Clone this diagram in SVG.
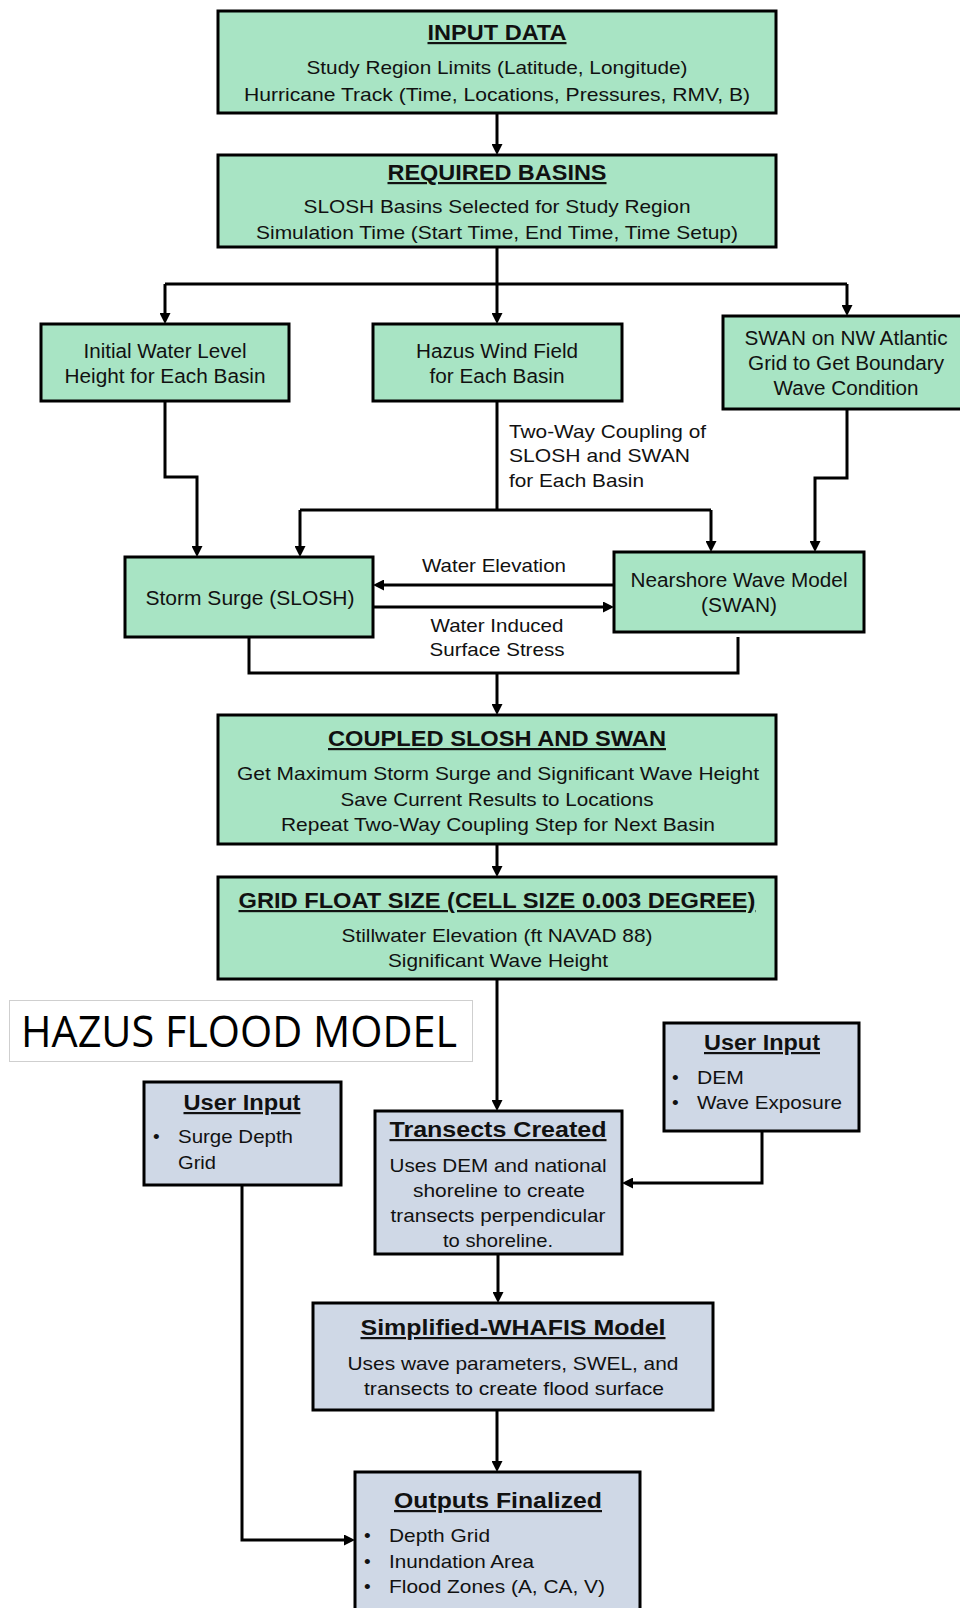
<svg xmlns="http://www.w3.org/2000/svg" width="960" height="1608" viewBox="0 0 960 1608">
  <style>
    .g { fill: #a8e4c4; stroke: #000; stroke-width: 3; }
    .b { fill: #cfd8e6; stroke: #000; stroke-width: 3; }
    text { font-family: "Liberation Sans", Arial, sans-serif; font-size: 19px; fill: #111; }
    .c { text-anchor: middle; }
    .h { font-weight: bold; font-size: 22px; text-decoration: underline; }
    .m { font-size: 20px; }
    .ln { fill: none; stroke: #000; stroke-width: 3; stroke-linejoin: miter; }
    .ar { marker-end: url(#arrow); }
  </style>
  <defs>
    <marker id="arrow" viewBox="0 0 11 11" markerWidth="11" markerHeight="11" markerUnits="userSpaceOnUse" refX="3" refY="5.5" orient="auto">
      <path d="M0,0 L11,5.5 L0,11 z" fill="#000"/>
    </marker>
  </defs>

  <rect width="960" height="1608" fill="#fff"/>

  <!-- connectors -->
  <g id="connectors">
    <path class="ln ar" d="M497,113 V147"/>
    <path class="ln" d="M497,247 V284 M165,284 H847"/>
    <path class="ln ar" d="M165,284 V316"/>
    <path class="ln ar" d="M497,284 V316"/>
    <path class="ln ar" d="M847,284 V308"/>
    <path class="ln ar" d="M165,401 V477 H197 V549"/>
    <path class="ln" d="M497,401 V510 M300,510 H711"/>
    <path class="ln ar" d="M300,510 V549"/>
    <path class="ln ar" d="M711,510 V544"/>
    <path class="ln ar" d="M847,409 V478 H815 V544"/>
    <path class="ln ar" d="M614,585 H381"/>
    <path class="ln ar" d="M373,607 H606"/>
    <path class="ln" d="M249,637 V673 H738 V637"/>
    <path class="ln ar" d="M497,673 V707"/>
    <path class="ln ar" d="M497,844 V869"/>
    <path class="ln ar" d="M497,979 V1103"/>
    <path class="ln ar" d="M762,1131 V1183 H630"/>
    <path class="ln ar" d="M498,1254 V1295"/>
    <path class="ln ar" d="M497,1410 V1464"/>
    <path class="ln ar" d="M242,1185 V1540 H347"/>
  </g>

  <!-- connector labels -->
  <g id="labels">
    <text x="509" y="438" textLength="197" lengthAdjust="spacingAndGlyphs">Two-Way Coupling of</text>
    <text x="509" y="462" textLength="181" lengthAdjust="spacingAndGlyphs">SLOSH and SWAN</text>
    <text x="509" y="487" textLength="135" lengthAdjust="spacingAndGlyphs">for Each Basin</text>
    <text class="c" x="494" y="572" textLength="144" lengthAdjust="spacingAndGlyphs">Water Elevation</text>
    <text class="c" x="497" y="632" textLength="133" lengthAdjust="spacingAndGlyphs">Water Induced</text>
    <text class="c" x="497" y="656" textLength="135" lengthAdjust="spacingAndGlyphs">Surface Stress</text>
  </g>

  <g id="input-data">
    <rect class="g" x="218" y="11" width="558" height="102"/>
    <text class="c h" x="497" y="40" textLength="139" lengthAdjust="spacingAndGlyphs">INPUT DATA</text>
    <text class="c" x="497" y="74" textLength="381" lengthAdjust="spacingAndGlyphs">Study Region Limits (Latitude, Longitude)</text>
    <text class="c" x="497" y="101" textLength="506" lengthAdjust="spacingAndGlyphs">Hurricane Track (Time, Locations, Pressures, RMV, B)</text>
  </g>

  <g id="required-basins">
    <rect class="g" x="218" y="155" width="558" height="92"/>
    <text class="c h" x="497" y="180" textLength="219" lengthAdjust="spacingAndGlyphs">REQUIRED BASINS</text>
    <text class="c" x="497" y="213" textLength="387" lengthAdjust="spacingAndGlyphs">SLOSH Basins Selected for Study Region</text>
    <text class="c" x="497" y="239" textLength="482" lengthAdjust="spacingAndGlyphs">Simulation Time (Start Time, End Time, Time Setup)</text>
  </g>

  <g id="initial-water-level">
    <rect class="g" x="41" y="324" width="248" height="77"/>
    <text class="c m" x="165" y="358" textLength="163" lengthAdjust="spacingAndGlyphs">Initial Water Level</text>
    <text class="c m" x="165" y="383" textLength="201" lengthAdjust="spacingAndGlyphs">Height for Each Basin</text>
  </g>

  <g id="wind-field">
    <rect class="g" x="373" y="324" width="249" height="77"/>
    <text class="c m" x="497" y="358" textLength="162" lengthAdjust="spacingAndGlyphs">Hazus Wind Field</text>
    <text class="c m" x="497" y="383" textLength="135" lengthAdjust="spacingAndGlyphs">for Each Basin</text>
  </g>

  <g id="swan-atlantic">
    <rect class="g" x="723" y="316" width="250" height="93"/>
    <text class="c m" x="846" y="345" textLength="203" lengthAdjust="spacingAndGlyphs">SWAN on NW Atlantic</text>
    <text class="c m" x="846" y="370" textLength="196" lengthAdjust="spacingAndGlyphs">Grid to Get Boundary</text>
    <text class="c m" x="846" y="395" textLength="145" lengthAdjust="spacingAndGlyphs">Wave Condition</text>
  </g>

  <g id="storm-surge">
    <rect class="g" x="125" y="557" width="248" height="80"/>
    <text class="c m" x="250" y="605" textLength="209" lengthAdjust="spacingAndGlyphs">Storm Surge (SLOSH)</text>
  </g>

  <g id="nearshore-wave">
    <rect class="g" x="614" y="552" width="250" height="80"/>
    <text class="c m" x="739" y="587" textLength="217" lengthAdjust="spacingAndGlyphs">Nearshore Wave Model</text>
    <text class="c m" x="739" y="612" textLength="76" lengthAdjust="spacingAndGlyphs">(SWAN)</text>
  </g>

  <g id="coupled">
    <rect class="g" x="218" y="715" width="558" height="129"/>
    <text class="c h" x="497" y="746" textLength="338" lengthAdjust="spacingAndGlyphs">COUPLED SLOSH AND SWAN</text>
    <text class="c" x="498" y="780" textLength="522" lengthAdjust="spacingAndGlyphs">Get Maximum Storm Surge and Significant Wave Height</text>
    <text class="c" x="497" y="806" textLength="313" lengthAdjust="spacingAndGlyphs">Save Current Results to Locations</text>
    <text class="c" x="498" y="831" textLength="434" lengthAdjust="spacingAndGlyphs">Repeat Two-Way Coupling Step for Next Basin</text>
  </g>

  <g id="grid-float">
    <rect class="g" x="218" y="877" width="558" height="102"/>
    <text class="c h" x="497" y="908" textLength="517" lengthAdjust="spacingAndGlyphs">GRID FLOAT SIZE (CELL SIZE 0.003 DEGREE)</text>
    <text class="c" x="497" y="942" textLength="311" lengthAdjust="spacingAndGlyphs">Stillwater Elevation (ft NAVAD 88)</text>
    <text class="c" x="498" y="967" textLength="220" lengthAdjust="spacingAndGlyphs">Significant Wave Height</text>
  </g>

  <g id="hazus-title">
    <rect x="9.5" y="1000.5" width="463" height="61" fill="#fff" stroke="#cfcfcf" stroke-width="1"/>
    <text x="21" y="1047" textLength="436" lengthAdjust="spacingAndGlyphs" style="font-family:'Open Sans','Noto Sans',sans-serif;font-size:43px;fill:#000">HAZUS FLOOD MODEL</text>
  </g>

  <g id="user-input-dem">
    <rect class="b" x="664" y="1023" width="195" height="108"/>
    <text class="c h" x="762" y="1050" textLength="116" lengthAdjust="spacingAndGlyphs">User Input</text>
    <text x="672" y="1084">•</text>
    <text x="697" y="1084" textLength="47" lengthAdjust="spacingAndGlyphs">DEM</text>
    <text x="672" y="1109">•</text>
    <text x="697" y="1109" textLength="145" lengthAdjust="spacingAndGlyphs">Wave Exposure</text>
  </g>

  <g id="transects">
    <rect class="b" x="375" y="1111" width="247" height="143"/>
    <text class="c h" x="498" y="1137" textLength="217" lengthAdjust="spacingAndGlyphs">Transects Created</text>
    <text class="c" x="498" y="1172" textLength="217" lengthAdjust="spacingAndGlyphs">Uses DEM and national</text>
    <text class="c" x="499" y="1197" textLength="172" lengthAdjust="spacingAndGlyphs">shoreline to create</text>
    <text class="c" x="498" y="1222" textLength="215" lengthAdjust="spacingAndGlyphs">transects perpendicular</text>
    <text class="c" x="498" y="1247" textLength="110" lengthAdjust="spacingAndGlyphs">to shoreline.</text>
  </g>

  <g id="user-input-surge">
    <rect class="b" x="144" y="1082" width="197" height="103"/>
    <text class="c h" x="242" y="1110" textLength="117" lengthAdjust="spacingAndGlyphs">User Input</text>
    <text x="153" y="1143">•</text>
    <text x="178" y="1143" textLength="115" lengthAdjust="spacingAndGlyphs">Surge Depth</text>
    <text x="178" y="1169" textLength="38" lengthAdjust="spacingAndGlyphs">Grid</text>
  </g>

  <g id="whafis">
    <rect class="b" x="313" y="1303" width="400" height="107"/>
    <text class="c h" x="513" y="1335" textLength="305" lengthAdjust="spacingAndGlyphs">Simplified-WHAFIS Model</text>
    <text class="c" x="513" y="1370" textLength="331" lengthAdjust="spacingAndGlyphs">Uses wave parameters, SWEL, and</text>
    <text class="c" x="514" y="1395" textLength="300" lengthAdjust="spacingAndGlyphs">transects to create flood surface</text>
  </g>

  <g id="outputs">
    <rect class="b" x="355" y="1472" width="285" height="160"/>
    <text class="c h" x="498" y="1508" textLength="208" lengthAdjust="spacingAndGlyphs">Outputs Finalized</text>
    <text x="364" y="1542">•</text>
    <text x="389" y="1542" textLength="101" lengthAdjust="spacingAndGlyphs">Depth Grid</text>
    <text x="364" y="1568">•</text>
    <text x="389" y="1568" textLength="145" lengthAdjust="spacingAndGlyphs">Inundation Area</text>
    <text x="364" y="1593">•</text>
    <text x="389" y="1593" textLength="216" lengthAdjust="spacingAndGlyphs">Flood Zones (A, CA, V)</text>
  </g>
</svg>
